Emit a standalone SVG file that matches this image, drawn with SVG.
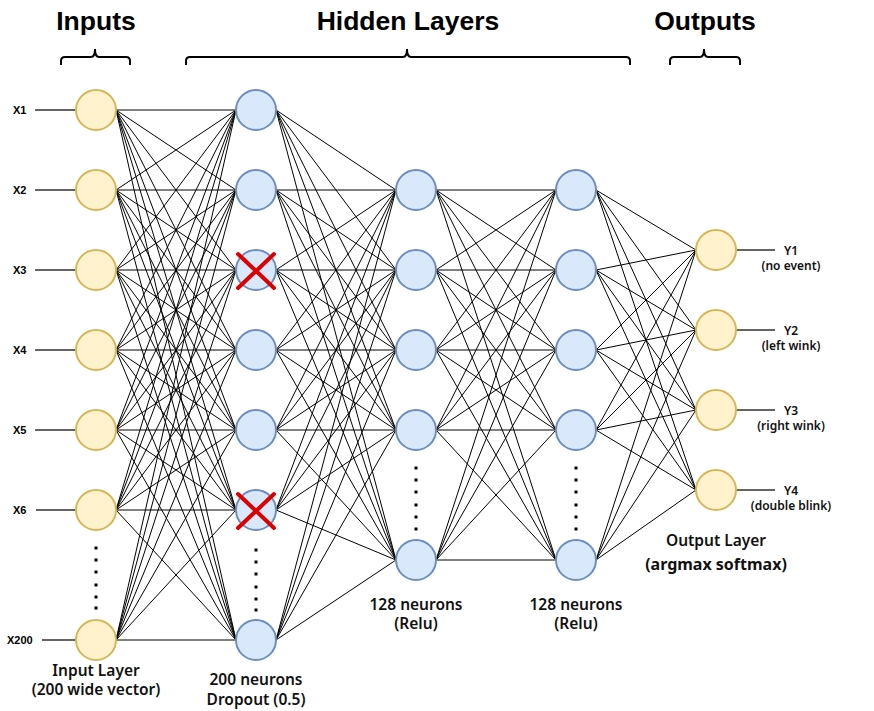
<svg xmlns="http://www.w3.org/2000/svg" width="874" height="711" viewBox="0 0 874 711">
<style>
.in{fill:#fff2cc;stroke:#d6b656;stroke-width:2}
.hid{fill:#dae8fc;stroke:#6c8ebf;stroke-width:2}
.e{stroke:#000;stroke-width:1;fill:none}
.stub{stroke:#333;stroke-width:1.3}
.br{fill:none;stroke:#000;stroke-width:2}
.title{font-family:"Liberation Sans",Arial,sans-serif;font-weight:bold;font-size:26.5px;text-anchor:middle}
.xl{font-family:"Liberation Sans",Arial,sans-serif;font-weight:bold;font-size:11px}
.yl{font-family:"Noto Sans",sans-serif;font-weight:600;font-size:12px;text-anchor:middle;fill:#111}
.lab{font-family:"Noto Sans",sans-serif;font-weight:600;font-size:15.5px;text-anchor:middle;fill:#111}
.big{font-weight:bold;font-size:16px}
.dot{fill:#000}
.x{stroke:#dd0000;stroke-width:4;stroke-linecap:round}
</style>
<g id="titles">
<text class="title" x="96" y="30">Inputs</text>
<text class="title" x="408" y="30">Hidden Layers</text>
<text class="title" x="705" y="30">Outputs</text>
<path class="br" d="M61,65 V61 Q61,57 65,57 H91 Q95,57 95,49 Q95,57 99,57 H126 Q130,57 130,61 V65"/>
<path class="br" d="M186,65 V61 Q186,57 190,57 H403 Q407,57 407,49 Q407,57 411,57 H626 Q630,57 630,61 V65"/>
<path class="br" d="M670,65 V61 Q670,57 674,57 H700 Q704,57 704,49 Q704,57 708,57 H736 Q740,57 740,61 V65"/>
</g>
<g id="connectors">
<path class="e" d="M116 110L236 110M116 110L236 190M116 110L236 270M116 110L236 350M116 110L236 430M116 110L236 510M116 110L236 640
M116 190L236 110M116 190L236 190M116 190L236 270M116 190L236 350M116 190L236 430M116 190L236 510M116 190L236 640
M116 270L236 110M116 270L236 190M116 270L236 270M116 270L236 350M116 270L236 430M116 270L236 510M116 270L236 640
M116 350L236 110M116 350L236 190M116 350L236 270M116 350L236 350M116 350L236 430M116 350L236 510M116 350L236 640
M116 430L236 110M116 430L236 190M116 430L236 270M116 430L236 350M116 430L236 430M116 430L236 510M116 430L236 640
M116 510L236 110M116 510L236 190M116 510L236 270M116 510L236 350M116 510L236 430M116 510L236 510M116 510L236 640
M116 640L236 110M116 640L236 190M116 640L236 270M116 640L236 350M116 640L236 430M116 640L236 510M116 640L236 640"/>
<path class="e" d="M276 110L396 190M276 110L396 270M276 110L396 350M276 110L396 430M276 110L396 560
M276 190L396 190M276 190L396 270M276 190L396 350M276 190L396 430M276 190L396 560
M276 270L396 190M276 270L396 270M276 270L396 350M276 270L396 430M276 270L396 560
M276 350L396 190M276 350L396 270M276 350L396 350M276 350L396 430M276 350L396 560
M276 430L396 190M276 430L396 270M276 430L396 350M276 430L396 430M276 430L396 560
M276 510L396 190M276 510L396 270M276 510L396 350M276 510L396 430M276 510L396 560
M276 640L396 190M276 640L396 270M276 640L396 350M276 640L396 430M276 640L396 560"/>
<path class="e" d="M436 190L556 190M436 190L556 270M436 190L556 350M436 190L556 430M436 190L556 560
M436 270L556 190M436 270L556 270M436 270L556 350M436 270L556 430M436 270L556 560
M436 350L556 190M436 350L556 270M436 350L556 350M436 350L556 430M436 350L556 560
M436 430L556 190M436 430L556 270M436 430L556 350M436 430L556 430M436 430L556 560
M436 560L556 190M436 560L556 270M436 560L556 350M436 560L556 430M436 560L556 560"/>
<path class="e" d="M596 190L696 250M596 190L696 330M596 190L696 410M596 190L696 490
M596 270L696 250M596 270L696 330M596 270L696 410M596 270L696 490
M596 350L696 250M596 350L696 330M596 350L696 410M596 350L696 490
M596 430L696 250M596 430L696 330M596 430L696 410M596 430L696 490
M596 560L696 250M596 560L696 330M596 560L696 410M596 560L696 490"/>
<path class="stub" d="M35 110H76M35 190H76M35 270H76M35 350H76M35 430H76M36 510H76M42 640H76"/>
<path class="stub" d="M736 250H775M736 330H775M736 410H775M736 490H775"/>
</g>
<g id="input-layer">
<circle class="in" cx="96" cy="110" r="20"/>
<circle class="in" cx="96" cy="190" r="20"/>
<circle class="in" cx="96" cy="270" r="20"/>
<circle class="in" cx="96" cy="350" r="20"/>
<circle class="in" cx="96" cy="430" r="20"/>
<circle class="in" cx="96" cy="510" r="20"/>
<circle class="in" cx="96" cy="640" r="20"/>
<g class="dot"><rect x="94.5" y="546.5" width="3" height="3"/><rect x="94.5" y="558.5" width="3" height="3"/><rect x="94.5" y="570.5" width="3" height="3"/><rect x="94.5" y="583.5" width="3" height="3"/><rect x="94.5" y="595.5" width="3" height="3"/><rect x="94.5" y="606.5" width="3" height="3"/></g>
<text class="xl" x="13" y="114">X1</text>
<text class="xl" x="13" y="194">X2</text>
<text class="xl" x="13" y="274">X3</text>
<text class="xl" x="13" y="354">X4</text>
<text class="xl" x="13" y="434">X5</text>
<text class="xl" x="13" y="514">X6</text>
<text class="xl" x="7" y="644">X200</text>
<text class="lab" x="96" y="676">Input Layer<tspan x="96" dy="19">(200 wide vector)</tspan></text>
</g>
<g id="hidden-layer-1">
<circle class="hid" cx="256" cy="110" r="20"/>
<circle class="hid" cx="256" cy="190" r="20"/>
<circle class="hid" cx="256" cy="270" r="20"/>
<circle class="hid" cx="256" cy="350" r="20"/>
<circle class="hid" cx="256" cy="430" r="20"/>
<circle class="hid" cx="256" cy="510" r="20"/>
<circle class="hid" cx="256" cy="640" r="20"/>
<path class="x" d="M238 254L274 288M274 254L238 288M238 494L274 528M274 494L238 528"/>
<g class="dot"><rect x="254.5" y="548.5" width="3" height="3"/><rect x="254.5" y="560.5" width="3" height="3"/><rect x="254.5" y="572.5" width="3" height="3"/><rect x="254.5" y="585.5" width="3" height="3"/><rect x="254.5" y="597.5" width="3" height="3"/><rect x="254.5" y="608.5" width="3" height="3"/></g>
<text class="lab" x="256" y="685">200 neurons<tspan x="256" dy="20">Dropout (0.5)</tspan></text>
</g>
<g id="hidden-layer-2">
<circle class="hid" cx="416" cy="190" r="20"/>
<circle class="hid" cx="416" cy="270" r="20"/>
<circle class="hid" cx="416" cy="350" r="20"/>
<circle class="hid" cx="416" cy="430" r="20"/>
<circle class="hid" cx="416" cy="560" r="20"/>
<g class="dot"><rect x="414.5" y="466.5" width="3" height="3"/><rect x="414.5" y="478.5" width="3" height="3"/><rect x="414.5" y="490.5" width="3" height="3"/><rect x="414.5" y="503.5" width="3" height="3"/><rect x="414.5" y="515.5" width="3" height="3"/><rect x="414.5" y="527.5" width="3" height="3"/></g>
<text class="lab" x="416" y="610">128 neurons<tspan x="416" dy="19">(Relu)</tspan></text>
</g>
<g id="hidden-layer-3">
<circle class="hid" cx="576" cy="190" r="20"/>
<circle class="hid" cx="576" cy="270" r="20"/>
<circle class="hid" cx="576" cy="350" r="20"/>
<circle class="hid" cx="576" cy="430" r="20"/>
<circle class="hid" cx="576" cy="560" r="20"/>
<g class="dot"><rect x="574.5" y="466.5" width="3" height="3"/><rect x="574.5" y="478.5" width="3" height="3"/><rect x="574.5" y="490.5" width="3" height="3"/><rect x="574.5" y="503.5" width="3" height="3"/><rect x="574.5" y="515.5" width="3" height="3"/><rect x="574.5" y="527.5" width="3" height="3"/></g>
<text class="lab" x="576" y="610">128 neurons<tspan x="576" dy="19">(Relu)</tspan></text>
</g>
<g id="output-layer">
<circle class="in" cx="716" cy="250" r="20"/>
<circle class="in" cx="716" cy="330" r="20"/>
<circle class="in" cx="716" cy="410" r="20"/>
<circle class="in" cx="716" cy="490" r="20"/>
<text class="yl" x="791" y="255">Y1<tspan x="791" dy="15">(no event)</tspan></text>
<text class="yl" x="791" y="335">Y2<tspan x="791" dy="15">(left wink)</tspan></text>
<text class="yl" x="791" y="415">Y3<tspan x="791" dy="15">(right wink)</tspan></text>
<text class="yl" x="791" y="495">Y4<tspan x="791" dy="15">(double blink)</tspan></text>
<text class="lab" x="716" y="546">Output Layer<tspan class="big" x="716" dy="24">(argmax softmax)</tspan></text>
</g>
</svg>
